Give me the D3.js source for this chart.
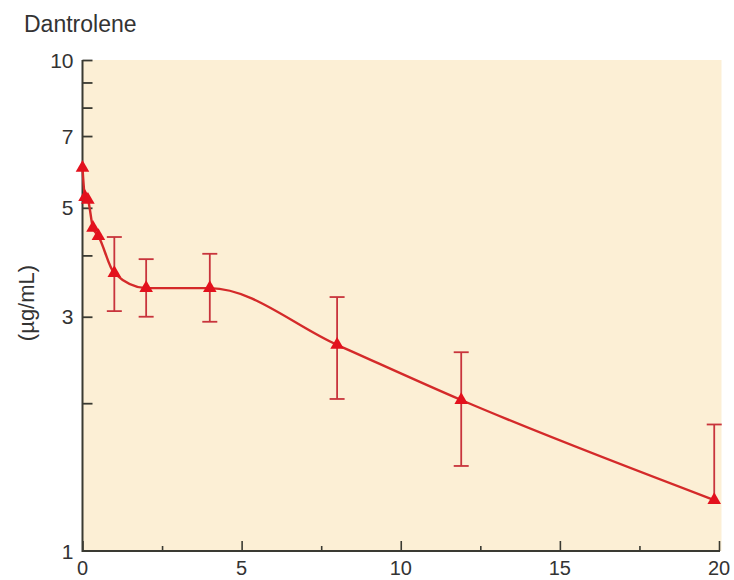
<!DOCTYPE html>
<html>
<head>
<meta charset="utf-8">
<script src="https://cdn.jsdelivr.net/npm/d3@7"></script>
<style>
html,body{margin:0;padding:0;background:#fff;}
svg{display:block;}
text{font-family:"Liberation Sans",Arial,Helvetica,sans-serif;fill:#333;}
</style>
</head>
<body>
<svg id="chart" width="734" height="580"></svg>
<script>
// ---- data ----
const times    = [0, 0.08, 0.17, 0.33, 0.5, 1, 2, 4, 8, 11.9, 19.85];
const conc     = [6.03, 5.26, 5.19, 4.55, 4.38, 3.68, 3.43, 3.43, 2.63, 2.03, 1.27];
const errHigh  = [null, null, null, null, null, 4.36, 3.93, 4.03, 3.29, 2.54, 1.81];
const errLow   = [null, null, null, null, null, 3.08, 3.00, 2.93, 2.04, 1.49, null];
const yTickLabels = [1, 3, 5, 7, 10];
const yMinorTicks = [2, 4, 8, 9];
const xTickLabels = [0, 5, 10, 15, 20];
const xMinorTicks = [2.5, 7.5, 12.5, 17.5];
const title = "Dantrolene";
const yTitle = "(\u00b5g/mL)";

// ---- layout ----
const svg = d3.select("#chart");
const pL = 82.5, pR = 719, pT = 60, pB = 551;
const x = d3.scaleLinear().domain([0, 20]).range([pL, pR]);
const y = d3.scaleLog().domain([1, 10]).range([pB, pT]);

const axisColor = "#3a3a32";
const lineColor = "#d42a2a";
const markColor = "#e3111d";
const errColor  = "#c8343c";

// background
svg.append("rect")
  .attr("x", pL).attr("y", pT)
  .attr("width", 721.5 - pL).attr("height", pB - pT)
  .attr("fill", "#fcefd5");

// y axis
const yAxis = d3.axisRight(y)
  .tickValues(yTickLabels.concat(yMinorTicks))
  .tickSize(10)
  .tickFormat("");
const gy = svg.append("g").attr("transform", `translate(${pL},0)`).call(yAxis);
gy.select(".domain").remove();
gy.selectAll(".tick line").attr("stroke", axisColor).attr("stroke-width", 1.8);
gy.selectAll(".tick").filter(d => d === 1).remove();

svg.append("g").selectAll("text").data(yTickLabels).join("text")
  .attr("x", pL - 9).attr("y", d => y(d))
  .attr("text-anchor", "end").attr("dy", "0.36em")
  .style("font-size", "21px")
  .text(d => d);

// x axis
const xAxisMajor = d3.axisTop(x).tickValues(xTickLabels).tickSize(10).tickFormat("");
const gx = svg.append("g").attr("transform", `translate(0,${pB})`).call(xAxisMajor);
gx.select(".domain").remove();
gx.selectAll(".tick line").attr("stroke", axisColor).attr("stroke-width", 1.6);
const xAxisMinor = d3.axisTop(x).tickValues(xMinorTicks).tickSize(5).tickFormat("");
const gx2 = svg.append("g").attr("transform", `translate(0,${pB})`).call(xAxisMinor);
gx2.select(".domain").remove();
gx2.selectAll(".tick line").attr("stroke", axisColor).attr("stroke-width", 1.6);

svg.append("g").selectAll("text").data(xTickLabels).join("text")
  .attr("x", d => x(d)).attr("y", 575)
  .attr("text-anchor", "middle")
  .style("font-size", "20px")
  .text(d => d);

// axis lines
svg.append("line").attr("x1", pL).attr("x2", pL).attr("y1", pT).attr("y2", pB + 1)
  .attr("stroke", axisColor).attr("stroke-width", 2);
svg.append("line").attr("x1", pL).attr("x2", pR + 1).attr("y1", pB).attr("y2", pB)
  .attr("stroke", axisColor).attr("stroke-width", 2);

// titles
svg.append("text").attr("x", 24).attr("y", 32)
  .style("font-size", "23px").text(title);
svg.append("text")
  .attr("transform", `translate(34,${303}) rotate(-90)`)
  .attr("text-anchor", "middle")
  .style("font-size", "22px").text(yTitle);

// data
const pts = times.map((t, i) => ({t, c: conc[i], hi: errHigh[i], lo: errLow[i]}));

// error bars
const capW = 7.5;
const eb = svg.append("g").attr("stroke", errColor).attr("stroke-width", 1.8).attr("fill", "none");
pts.filter(d => d.hi !== null || d.lo !== null).forEach(d => {
  const t0 = d.hi !== null ? d.hi : d.c;
  const b0 = d.lo !== null ? d.lo : d.c;
  eb.append("line").attr("x1", x(d.t)).attr("x2", x(d.t)).attr("y1", y(t0)).attr("y2", y(b0));
  if (d.hi !== null) eb.append("line").attr("x1", x(d.t) - capW).attr("x2", x(d.t) + capW)
    .attr("y1", y(d.hi)).attr("y2", y(d.hi));
  if (d.lo !== null) eb.append("line").attr("x1", x(d.t) - capW).attr("x2", x(d.t) + capW)
    .attr("y1", y(d.lo)).attr("y2", y(d.lo));
});

// curve
const line = d3.line().x(d => x(d.t)).y(d => y(d.c)).curve(d3.curveMonotoneX);
svg.append("path").datum(pts).attr("d", line)
  .attr("fill", "none").attr("stroke", lineColor).attr("stroke-width", 2.4);

// markers
svg.append("g").selectAll("path").data(pts).join("path")
  .attr("transform", d => `translate(${x(d.t)},${y(d.c)})`)
  .attr("d", d3.symbol().type(d3.symbolTriangle).size(80))
  .attr("fill", markColor);
</script>
</body>
</html>
